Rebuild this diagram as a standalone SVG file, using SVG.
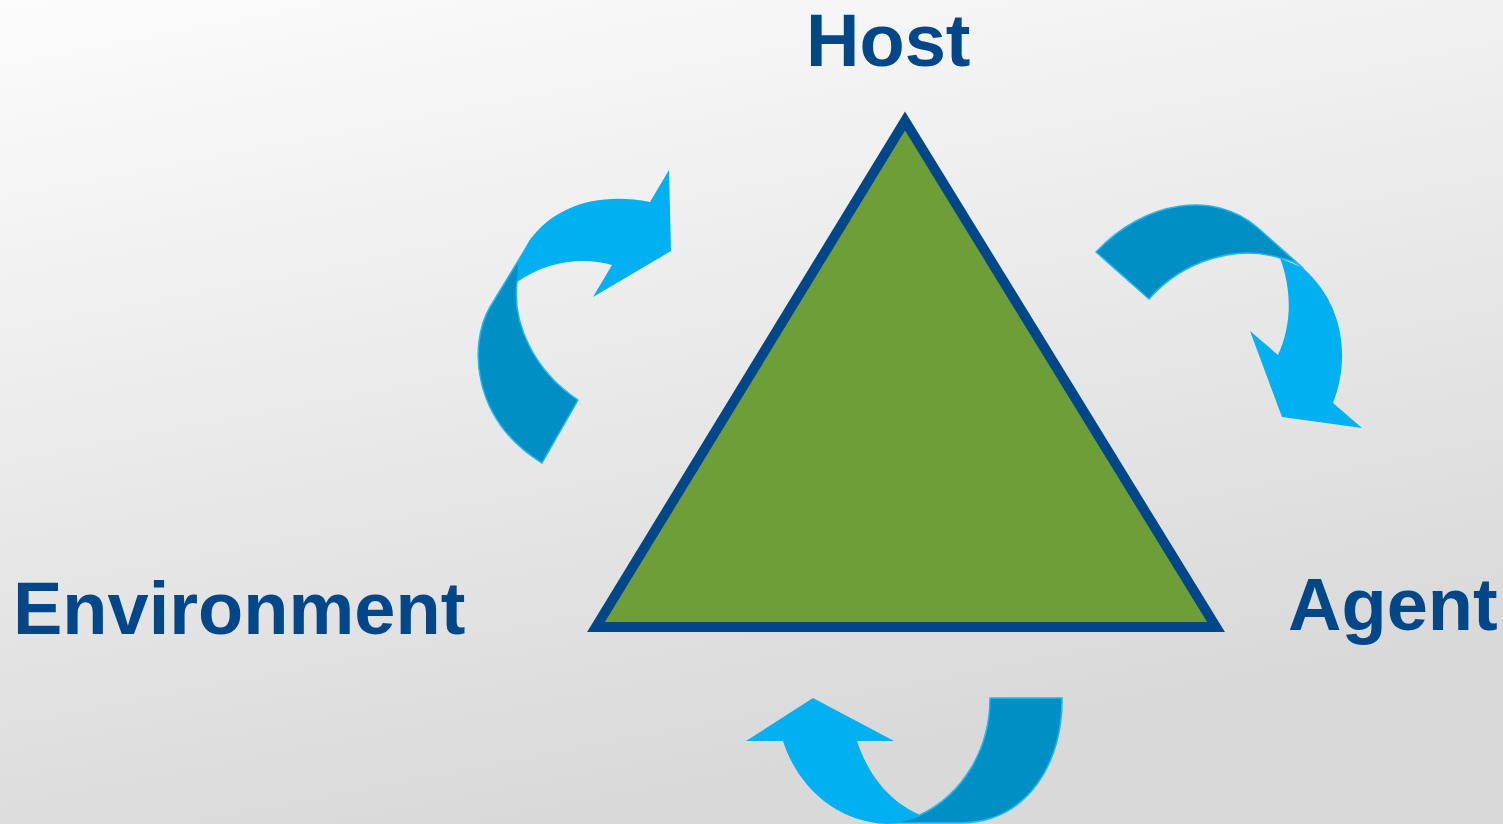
<svg xmlns="http://www.w3.org/2000/svg" width="1503" height="824" viewBox="0 0 1503 824">
  <defs>
    <linearGradient id="bg" x1="0" y1="0" x2="0.35" y2="1">
      <stop offset="0" stop-color="#fcfcfc"/>
      <stop offset="1" stop-color="#d9d9d9"/>
    </linearGradient>
  </defs>
  <style>
    .lbl { font-family: "Liberation Sans", Arial, sans-serif; font-weight: bold; font-size: 74px; fill: #00478a; }
    .light { fill: #00b0f0; }
    .dark { fill: #008fc4; stroke: #1fb8f2; stroke-width: 1.5; stroke-linejoin: round; }
  </style>
  <rect x="0" y="0" width="1503" height="824" fill="url(#bg)"/>

  <g id="triangle">
    <polygon points="905,121 596,627 1216,627" fill="#6e9e37" stroke="#00478a" stroke-width="10" stroke-linejoin="miter"/>
  </g>

  <g id="host"><text class="lbl" x="806" y="66">Host</text></g>
  <g id="environment"><text class="lbl" x="13" y="634">Environment</text></g>
  <g id="agent"><text class="lbl" x="1288" y="630">Agent</text></g>

  <g id="connectors">
    <g id="arrow-env-host">
      <path class="dark" d="M 532,238 L 490,307 C 468,345 472,420 542,463 L 578,400 C 533,370 512,322 517,282 Z"/>
      <path class="light" d="M 650,202 L 669,170 L 671,251 L 593,297 L 612,265 C 582,256 545,262 517,282 L 518,262 L 530,240 C 555,205 600,192 650,202 Z"/>
    </g>
    <g id="arrow-host-agent">
      <path class="light" d="M 1280,258 L 1303,268 C 1345,305 1350,360 1333,403 L 1362,428 L 1282,417 L 1250,331 L 1278,355 C 1292,325 1292,290 1280,258 Z"/>
      <path class="dark" d="M 1096,252 C 1145,200 1215,190 1258,228 L 1303,268 C 1295,262 1288,259 1280,258 C 1240,245 1185,258 1149,299 Z"/>
    </g>
    <g id="arrow-agent-env">
      <path class="dark" d="M 990,698 L 1062,698 C 1063,760 1030,822 960,823 L 890,823 C 903,821 913,818 920,815 C 962,795 990,750 990,698 Z"/>
      <path class="light" d="M 813,698 L 894,741 L 857,741 C 870,780 893,803 920,815 C 910,820 900,823 887,824 C 835,822 797,785 783,741 L 746,741 Z"/>
    </g>
  </g>
</svg>
